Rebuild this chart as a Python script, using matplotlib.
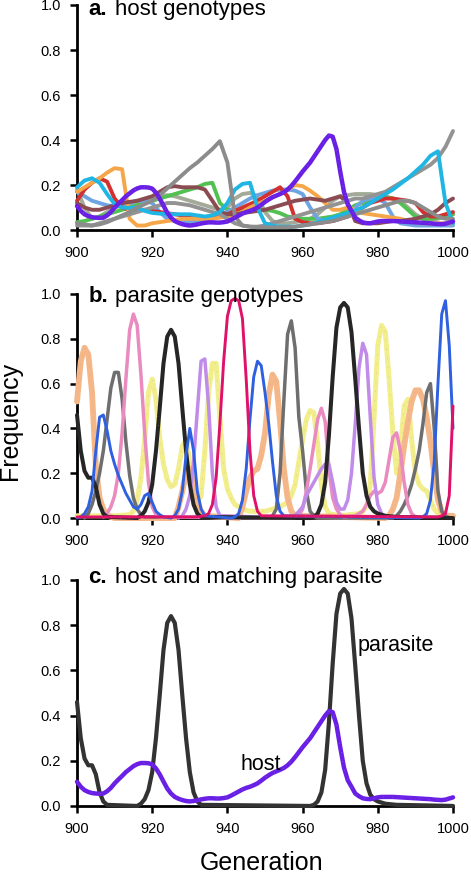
#!/usr/bin/env python3
import numpy as np
import matplotlib
matplotlib.use('Agg')
import matplotlib.pyplot as plt

plt.rcParams['font.family'] = ['Liberation Sans', 'DejaVu Sans']
plt.rcParams['lines.solid_joinstyle'] = 'round'
plt.rcParams['lines.solid_capstyle'] = 'round'

# ---- data ---------------------------------------------------------------
gen1 = np.arange(900, 1001)        # step 1
gen2 = np.arange(900, 1001, 2)     # step 2

# host genotype that matches parasite (purple, panels a and c)
host = [0.107, 0.085, 0.07, 0.062, 0.057, 0.055, 0.054, 0.055, 0.065, 0.08,
        0.1, 0.117, 0.133, 0.15, 0.163, 0.176, 0.185, 0.19, 0.19, 0.189,
        0.184, 0.166, 0.14, 0.108, 0.077, 0.055, 0.04, 0.032, 0.026, 0.022,
        0.02, 0.022, 0.025, 0.029, 0.032, 0.034, 0.034, 0.033, 0.033, 0.035,
        0.038, 0.046, 0.055, 0.064, 0.073, 0.08, 0.085, 0.092, 0.1, 0.112,
        0.125, 0.136, 0.146, 0.153, 0.16, 0.168, 0.18, 0.196, 0.216, 0.238,
        0.26, 0.28, 0.3, 0.325, 0.35, 0.375, 0.4, 0.42, 0.415, 0.36,
        0.26, 0.17, 0.114, 0.085, 0.055, 0.043, 0.034, 0.031, 0.03, 0.034,
        0.038, 0.04, 0.04, 0.04, 0.04, 0.039, 0.038, 0.037, 0.036, 0.035,
        0.034, 0.033, 0.032, 0.031, 0.03, 0.028, 0.027, 0.026, 0.028, 0.033,
        0.038]

# other host genotypes (panel a), generations 900..1000 step 2
a_cyan = [.19, .22, .23, .21, .16, .115, .1, .098, .1, .085, .076, .073, .072,
          .07, .07, .07, .065, .06, .065, .08, .12, .18, .205, .21, .1, .03,
          .02, .015, .015, .015, .02, .025, .035, .045, .055, .065, .075, .088,
          .1, .12, .14, .16, .18, .205, .23, .26, .29, .33, .35, .12, .03]
a_greyA = [.03, .025, .02, .025, .035, .05, .065, .08, .1, .115, .13, .155,
           .185, .215, .245, .275, .3, .33, .36, .395, .3, .06, .02, .015,
           .012, .012, .012, .012, .012, .015, .02, .025, .03, .035, .04, .05,
           .06, .07, .08, .09, .1, .11, .12, .13, .13, .12, .1, .08, .06, .05,
           .05]
a_greyB = [.02, .02, .02, .03, .04, .05, .06, .07, .08, .09, .1, .11, .12, .12,
           .115, .11, .1, .09, .08, .07, .05, .03, .02, .015, .015, .02, .03,
           .04, .05, .06, .07, .08, .09, .1, .11, .12, .13, .14, .14, .15, .16,
           .17, .19, .21, .23, .25, .27, .29, .32, .37, .44]
a_orange = [.17, .19, .21, .23, .255, .275, .27, .05, .02, .02, .03, .035,
            .04, .045, .05, .05, .05, .05, .05, .055, .06, .07, .08, .1, .115,
            .13, .145, .16, .18, .2, .195, .175, .15, .12, .09, .09, .1, .09,
            .075, .07, .065, .06, .055, .05, .04, .035, .03, .03, .03, .03,
            .03]
a_red = [.13, .18, .21, .23, .215, .14, .1, .09, .09, .09, .085, .08, .075,
         .07, .065, .06, .06, .055, .05, .06, .07, .085, .1, .115, .13, .15,
         .17, .19, .15, .05, .035, .03, .03, .035, .04, .05, .06, .08, .1,
         .12, .13, .14, .14, .135, .13, .12, .08, .06, .06, .07, .08]
a_ltblue = [.17, .15, .13, .12, .11, .105, .11, .12, .13, .13, .12, .08, .05,
            .04, .035, .035, .04, .05, .06, .07, .08, .1, .12, .14, .155, .165,
            .175, .18, .18, .175, .16, .1, .05, .04, .04, .05, .07, .1, .13,
            .14, .14, .12, .06, .03, .025, .02, .02, .02, .02, .02, .02]
a_green = [.035, .04, .05, .06, .07, .08, .09, .1, .11, .12, .13, .14, .15,
           .16, .17, .18, .19, .205, .21, .12, .09, .085, .085, .09, .09, .09,
           .085, .075, .06, .055, .05, .05, .05, .055, .06, .07, .09, .11, .12,
           .13, .14, .145, .14, .12, .09, .06, .05, .05, .055, .06, .07]
a_brown = [.12, .1, .09, .09, .1, .11, .12, .125, .13, .14, .15, .17, .19,
           .195, .19, .19, .19, .18, .13, .08, .07, .07, .075, .08, .085, .09,
           .1, .11, .12, .13, .135, .14, .135, .13, .14, .15, .12, .04, .03,
           .03, .03, .035, .04, .04, .045, .05, .06, .07, .09, .12, .14]
a_sage = [.18, .1, .05, .06, .08, .1, .11, .115, .12, .13, .14, .15, .155,
          .15, .14, .13, .12, .11, .1, .09, .1, .14, .16, .165, .15, .08, .04,
          .03, .03, .035, .04, .05, .07, .1, .13, .15, .155, .16, .16, .16,
          .155, .15, .14, .13, .1, .07, .05, .045, .05, .06, .07]

# parasite genotypes (panel b), irregular generations
b_peach_x = [900, 901, 902, 903, 904, 905, 906, 907, 908, 909, 910,
             926, 927, 928, 929, 930, 931, 932, 933, 934,
             943, 944, 945, 946, 947, 948, 949, 950, 951, 952, 953, 954, 955,
             956, 957, 958,
             982, 983, 984, 985, 986, 987, 988, 989, 990, 991, 992, 993, 994,
             995, 996, 997, 998, 1000]
b_peach = [.52, .70, .76, .73, .56, .23, .09, .04, .015, .005, 0,
           0, .05, .12, .2, .22, .15, .07, .03, .01,
           0, .05, .12, .18, .21, .22, .28, .38, .55, .64, .61, .43, .22,
           .09, .03, .01,
           0, .01, .04, .09, .2, .32, .43, .52, .57, .57, .53, .45, .34,
           .2, .08, .03, .01, .01]

b_black_x = list(range(900, 909)) + list(range(916, 934)) + \
    list(range(962, 981)) + [982, 985, 1000]
b_black = [.46, .3, .21, .18, .18, .14, .06, .02, .005,
           0, .01, .03, .07, .15, .3, .49, .69, .81, .84, .81, .69, .49, .3,
           .15, .06, .02, .005,
           0, .005, .02, .06, .16, .37, .63, .85, .94, .96, .94, .83, .62,
           .4, .2, .1, .05, .03, .02,
           .01, .005, 0]

b_grey_x = list(range(902, 919)) + list(range(951, 965)) + \
    list(range(984, 1000))
b_grey = [0, .02, .06, .12, .2, .3, .44, .58, .65, .65, .53, .34, .19, .09,
          .04, .015, .005,
          0, .01, .04, .2, .52, .82, .88, .76, .45, .3, .12, .03, .01, 0,
          0, .01, .03, .06, .1, .15, .22, .3, .42, .56, .6, .4, .12, .03, .01,
          0]

b_pink_x = list(range(907, 923)) + list(range(958, 972)) + [974] + \
    list(range(976, 991))
b_pink = [.005, .02, .05, .1, .2, .38, .62, .84, .91, .86, .64, .38, .16, .05,
          .015, .005,
          0, .01, .04, .12, .22, .33, .44, .49, .43, .22, .09, .04, .015, .005,
          .01,
          .03, .06, .1, .12, .11, .12, .16, .26, .36, .38, .3, .16, .06, .02,
          .005]

b_lav_x = list(range(927, 939)) + list(range(957, 983))
b_lav = [0, .01, .04, .1, .25, .48, .7, .71, .5, .2, .05, .01,
         0, .01, .03, .05, .1, .13, .16, .19, .22, .24, .24, .16, .07, .04,
         .04, .08, .2, .42, .67, .78, .73, .45, .18, .06, .02, .005]

b_yellow_x = [900, 910, 914] + list(range(915, 945)) + \
    [946, 948, 950, 952, 954, 956] + list(range(957, 968)) + [970] + \
    list(range(975, 998)) + [1000]
b_yellow = [.01, .01, .015,
            .03, .08, .18, .35, .56, .62, .53, .36, .24, .17, .14, .15, .22,
            .32, .35, .25, .12, .07, .1, .3, .56, .69, .69, .45, .22, .13, .09,
            .06, .05, .04,
            .03, .03, .03, .04, .05, .07,
            .1, .15, .25, .35, .44, .48, .47, .33, .15, .05, .02,
            .01,
            .02, .03, .05, .15, .45, .77, .86, .83, .62, .38, .2, .3, .5, .53,
            .35, .2, .15, .13, .12, .08, .04, .02, .01,
            .005]

b_blue_x = list(range(900, 924)) + list(range(925, 935)) + \
    list(range(941, 956)) + list(range(991, 1001))
b_blue = [0, .005, .02, .05, .12, .3, .45, .46, .39, .3, .24, .19, .15, .11,
          .08, .05, .04, .06, .1, .11, .07, .03, .015, .005,
          0, .01, .04, .12, .28, .4, .3, .12, .04, .01,
          0, .005, .02, .08, .22, .44, .63, .7, .68, .56, .42, .25, .1, .03,
          .01,
          0, .005, .02, .08, .25, .6, .91, .97, .77, .4]

b_mag_x = [900] + list(range(932, 950)) + list(range(995, 1001))
b_mag = [.005, .005, .008, .01, .02, .06, .18, .42, .7, .9, .97, .98, .97,
         .89, .62, .3, .1, .03, .01,
         .005, .005, .01, .02, .1, .5]

# ---- figure -------------------------------------------------------------
fig = plt.figure(figsize=(4.71, 8.77), dpi=100)
L, W = 0.1635, 0.7983
ax_a = fig.add_axes([L, 0.7377, W, 0.2566])
ax_b = fig.add_axes([L, 0.4093, W, 0.2555])
ax_c = fig.add_axes([L, 0.0810, W, 0.2577])

speck = dict(color='#a0a0a0', lw=0.6, ls=(0, (1, 10)), alpha=0.45,
             clip_on=False)

# a. host genotypes
for y, col in [(a_sage, '#a3ab98'), (a_green, '#52c152'), (a_ltblue, '#6ea4e2'),
               (a_red, '#d2312f'), (a_orange, '#f4a649'), (a_brown, '#8b4b52'),
               (a_greyB, '#939393'), (a_cyan, '#20b6e4'), (a_greyA, '#8c8c8c')]:
    ax_a.plot(gen2, y, color=col, lw=2.8, clip_on=False)
ax_a.plot(gen1, host, color='#6a1fe6', lw=3.2, clip_on=False)
ax_a.plot(gen1, host, **speck)

# b. parasite genotypes
for x, y, col, lw in [(b_yellow_x, b_yellow, '#f2ee8c', 3.6),
                      (b_peach_x, b_peach, '#f6b788', 4.2),
                      (b_grey_x, b_grey, '#6e6e6e', 2.5),
                      (b_pink_x, b_pink, '#e98bbf', 2.5),
                      (b_lav_x, b_lav, '#c18be9', 2.5),
                      (b_black_x, b_black, '#262626', 2.9),
                      (b_blue_x, b_blue, '#2e60df', 2.1),
                      (b_mag_x, b_mag, '#df1169', 2.1)]:
    ax_b.plot(x, y, color=col, lw=lw, clip_on=False)
ax_b.plot(b_peach_x, b_peach, **speck)
ax_b.plot(b_yellow_x, b_yellow, **speck)

# c. host and matching parasite
ax_c.plot(b_black_x, b_black, color='#333333', lw=3, clip_on=False)
ax_c.plot(gen1, host, color='#6a1fe6', lw=3.2, clip_on=False)
ax_c.plot(gen1, host, **speck)
ax_c.text(974.7, 0.71, 'parasite', fontsize=15.5, va='center', ha='left')
ax_c.text(943.5, 0.16, 'host', fontsize=15.5, va='baseline', ha='left')

titles = [(ax_a, 'a.', 'host genotypes', 0.955),
          (ax_b, 'b.', 'parasite genotypes', 0.962),
          (ax_c, 'c.', 'host and matching parasite', 0.985)]
for ax, lab, txt, ty in titles:
    ax.set_xlim(900, 1000)
    ax.set_ylim(0, 1)
    ax.set_xticks(range(900, 1001, 20))
    ax.set_yticks(np.arange(0, 1.01, 0.2))
    ax.set_yticklabels(['%.1f' % v for v in np.arange(0, 1.01, 0.2)])
    for s in ['top', 'right']:
        ax.spines[s].set_visible(False)
    for s in ['left', 'bottom']:
        ax.spines[s].set_linewidth(2)
        ax.spines[s].set_zorder(0.5)
    ax.tick_params(direction='out', length=5, width=1.8, labelsize=10.5, pad=6.5)
    ax.text(0.03, ty, lab, transform=ax.transAxes, fontsize=16,
            fontweight='bold', va='baseline', zorder=5)
    ax.text(0.1, ty, txt, transform=ax.transAxes, fontsize=16,
            va='baseline', zorder=5)

fig.text(0.022, 0.52, 'Frequency', rotation=90, fontsize=18,
         ha='center', va='center')
fig.text(0.555, 0.016, 'Generation', fontsize=18, ha='center', va='center')

fig.savefig('out.png', dpi=100)
